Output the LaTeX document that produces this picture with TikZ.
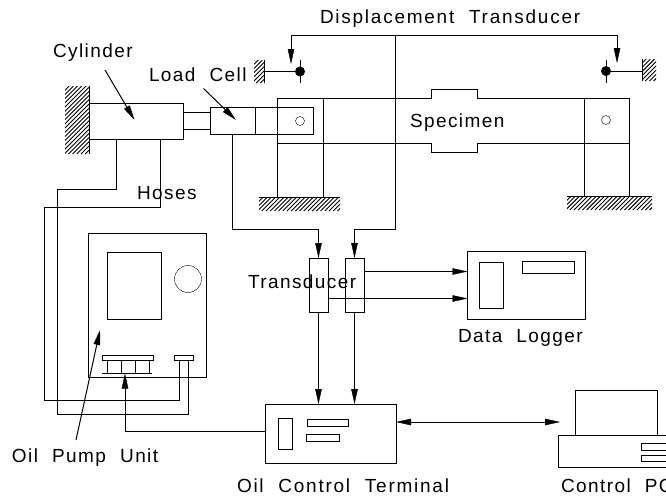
\documentclass[tikz,border=0pt]{standalone}
\usepackage{fontspec}
\setmainfont{Liberation Sans}
\usetikzlibrary{arrows.meta}
\newfontfamily\lblfont{Liberation Sans}[LetterSpace=7.5,WordSpace=2.1]
\newfontfamily\lblwfont{Liberation Sans}[LetterSpace=9.2,WordSpace=2.1]
\newcommand{\hatchbox}[4]{%
  \begin{scope}
    \clip (#1,#2) rectangle (#3,#4);
    \pgfmathsetmacro{\hchh}{#4-(#2)}
    \pgfmathsetmacro{\hchs}{#1-\hchh}
    \pgfmathsetmacro{\hchn}{\hchs+4.2}
    \foreach \hq in {\hchs,\hchn,...,#3} \draw[line width=.9pt] (\hq,#4) -- (\hq+\hchh,#2);
  \end{scope}}
\newcommand{\bx}[5]{%
  \pgfmathsetmacro{\bxw}{#4-(#2)}\pgfmathsetmacro{\bxh}{#5-(#3)}
  \node[rbox,minimum width=\bxw pt,minimum height=\bxh pt] (#1) at (#2,#3) {};}
\tikzset{
  x=1pt,y=-1pt,
  line width=1.15pt,
  rbox/.style={draw,anchor=north west,inner sep=0pt,outer sep=0pt},
  lbl/.style={anchor=base west,inner sep=0pt,outer sep=0pt,font=\fontsize{19}{19}\lblfont},
  lblw/.style={lbl,font=\fontsize{19}{19}\lblwfont},
  arr/.style={-{Triangle[length=15pt,width=6.5pt]}},
  darr/.style={{Triangle[length=15pt,width=6.5pt]}-{Triangle[length=15pt,width=6.5pt]}},
  thin line/.style={line width=1pt}
}
\begin{document}
\begin{tikzpicture}
\useasboundingbox (0,0) rectangle (666,496);
% hatching
\hatchbox{65}{86}{89}{154}
\hatchbox{254}{60}{264}{83}
\hatchbox{642}{59}{656}{81}
\hatchbox{259}{197}{340}{211}
\hatchbox{567}{196}{652}{210}
% specimen outline
\draw (277.5,98) -- (431,98) -- (431,89) -- (477,89) -- (477,98) -- (629.5,98) -- (629.5,196);
\draw (277.5,143) -- (431,143) -- (431,152) -- (477,152) -- (477,143) -- (629.5,143);
\draw (277.5,98) -- (277.5,197);
\draw (323,98) -- (323,197);
\draw (584,98) -- (584,196);
\draw (259,197) -- (340,197);
\draw (567,196) -- (652,196);
\node[draw,circle,inner sep=0pt,minimum size=9pt] (pinL) at (300,121) {};
\node[draw,circle,inner sep=0pt,minimum size=9pt] (pinR) at (606,120) {};
% cylinder
\draw (89,86) -- (89,154);
\bx{cyl}{89}{103.5}{183.5}{139}
\coordinate (rodA) at (210,112);
\coordinate (rodB) at (210,129.5);
\draw (cyl.east |- rodA) -- (rodA);
\draw (cyl.east |- rodB) -- (rodB);
\bx{cell}{210}{107.5}{255}{134.5}
\bx{clamp}{255}{107.5}{313.5}{134.5}
% pump
\bx{pump}{88.5}{233.5}{206}{377}
\bx{tank}{107}{252}{161}{319.5}
\node[draw,circle,inner sep=0pt,minimum size=27pt] (gauge) at (188,279) {};
\bx{valve}{102.5}{355.5}{153}{360}
\bx{port}{174.5}{355.5}{193}{360}
\coordinate (vb) at (102,373.5);
\coordinate (ve) at (152,373.5);
\draw (vb) -- (ve);
\foreach \vx in {107,121,135,149} \draw (\vx,360) -- (\vx,373.5);
% hoses
\coordinate (h1a) at (116,189);
\coordinate (h1b) at (57.5,189);
\coordinate (h1c) at (57.5,414);
\coordinate (h1d) at (188.5,414);
\draw (h1a |- cyl.south) -- (h1a) -- (h1b) -- (h1c) -- (h1d) -- (h1d |- port.south);
\coordinate (h2a) at (160.5,207);
\coordinate (h2b) at (44,207);
\coordinate (h2c) at (44,400.5);
\coordinate (h2d) at (179.5,400.5);
\draw (h2a |- cyl.south) -- (h2a) -- (h2b) -- (h2c) -- (h2d) -- (h2d |- port.south);
% transducers
\bx{ta}{309}{258}{328}{312}
\bx{tb}{345}{258}{364}{312}
% data logger
\bx{log}{467.5}{251}{585}{319}
\bx{logA}{479}{262}{503}{308}
\bx{logB}{522}{261.5}{574}{273}
% terminal
\bx{term}{265}{404}{396}{463}
\bx{termA}{278}{418}{292}{449}
\bx{termB}{307}{419}{348.5}{426}
\bx{termC}{306}{434.5}{339.5}{441.5}
% PC
\bx{mon}{575.5}{390}{657}{435}
\bx{pcb}{558}{435}{680}{467}
\bx{pcC}{641}{443.5}{680}{450}
\bx{pcD}{641}{455}{680}{461}
% displacement transducer
\node[fill,circle,inner sep=0pt,minimum size=10pt] (dl) at (300,71.5) {};
\node[fill,circle,inner sep=0pt,minimum size=10pt] (dr) at (606,71) {};
\coordinate (wl) at (264,71.5);
\coordinate (wr) at (642,71);
\draw (wl) -- (dl);
\draw (dr) -- (wr);
\draw (264,60) -- (264,83);
\draw (642,59) -- (642,81);
\draw (300,60) -- (300,83);
\draw (606,60) -- (606,83);
\coordinate (tl) at (291,35);
\coordinate (tm) at (395,35);
\coordinate (tr) at (617,35);
\coordinate (al) at (291,64);
\coordinate (ar) at (617,63);
\draw[arr] (tm) -- (tl) -- (al);
\draw[arr] (tm) -- (tr) -- (ar);
% signal lines
\coordinate (ca) at (232.5,229);
\draw[arr] (ca |- cell.south) -- (ca) -- (ta.north |- ca) -- (ta.north);
\coordinate (cb) at (395,229);
\draw[arr] (tm) -- (cb) -- (tb.north |- cb) -- (tb.north);
\coordinate (oa) at (364,271.5);
\draw[arr] (oa) -- (log.west |- oa);
\coordinate (ob) at (328,298.5);
\draw[arr] (ob) -- (log.west |- ob);
\draw[arr] (ta.south) -- (ta.south |- term.north);
\draw[arr] (tb.south) -- (tb.south |- term.north);
\coordinate (pa) at (125,431.5);
\coordinate (pb) at (125,373.5);
\draw[arr] (term.west |- pa) -- (pa) -- (pb);
\coordinate (pcend) at (560,422);
\draw[darr] (term.east |- pcend) -- (pcend);
% pointers
\coordinate (c1) at (105,70); \coordinate (c2) at (134.5,120);
\draw[thin line,arr] (c1) -- (c2);
\coordinate (l1) at (203.5,88.5); \coordinate (l2) at (236,120);
\draw[thin line,arr] (l1) -- (l2);
\coordinate (o1) at (76,440); \coordinate (o2) at (100,330);
\draw[thin line,arr] (o1) -- (o2);
% labels
\node[lblw] (t1) at (320,23) {Displacement Transducer};
\node[lbl] (t2) at (53,57) {Cylinder};
\node[lbl] (t3) at (149,81) {Load Cell};
\node[lbl] (t4) at (410,127) {Specimen};
\node[lbl] (t5) at (137,199) {Hoses};
\node[lbl] (t6) at (248,288) {Transducer};
\node[lbl] (t7) at (458,342) {Data Logger};
\node[lbl] (t8) at (12,462) {Oil Pump Unit};
\node[lblw] (t9) at (237,492) {Oil Control Terminal};
\node[lbl] (t10) at (561,492) {Control PC};
\end{tikzpicture}
\end{document}
